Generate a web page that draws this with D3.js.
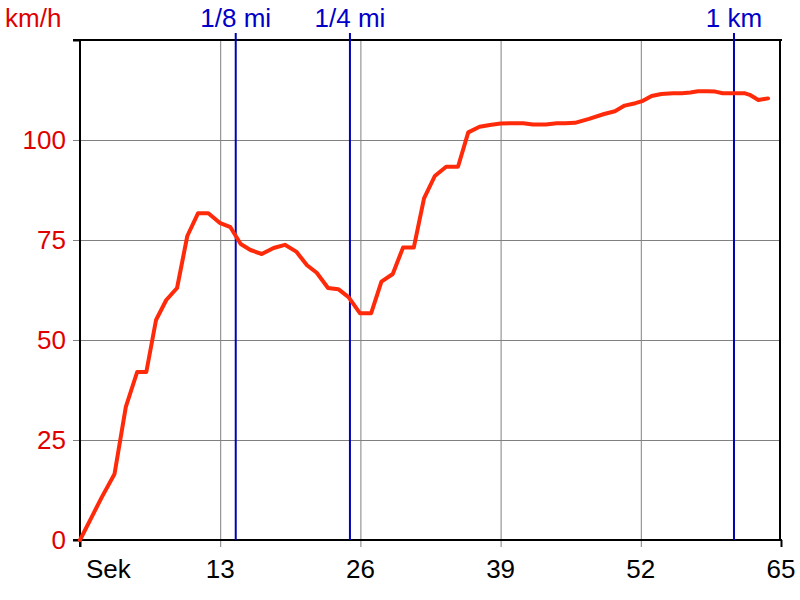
<!DOCTYPE html>
<html><head><meta charset="utf-8">
<script src="https://cdn.jsdelivr.net/npm/d3@7"></script>
<style>html,body{margin:0;padding:0;background:#fff;}svg{display:block;}</style>
</head><body>
<svg id="c" width="800" height="600"></svg>
<script>
// Data
const timeSec = [0,1,2,3.2,4.25,5.3,6.15,7.05,8.0,9.0,9.95,10.95,11.9,12.95,13.95,14.9,15.8,16.85,17.95,19.0,20.05,21.05,21.95,23.0,23.95,24.9,25.95,27.0,27.95,29.0,29.95,30.95,31.9,32.9,33.95,35.05,36.0,37.05,38.0,39.0,40.1,41.1,42.0,43.2,44.2,45.0,45.9,47.2,48.6,49.6,50.5,51.5,52.2,53.0,53.9,55.0,55.8,56.6,57.3,58.2,58.9,59.6,60.6,61.6,62.1,62.9,63.8];
const speedKmh = [0,5.3,10.6,16.5,33.3,42,42,55,60,63,76,81.7,81.7,79.3,78.2,74,72.5,71.5,73,73.8,72.1,68.7,66.8,63,62.7,60.7,56.7,56.7,64.6,66.5,73.1,73.1,85.4,91,93.3,93.3,101.9,103.3,103.75,104.1,104.2,104.2,103.9,103.9,104.2,104.2,104.3,105.3,106.5,107.2,108.6,109.2,109.8,111,111.5,111.7,111.7,111.9,112.2,112.2,112.1,111.7,111.7,111.7,111.3,110,110.4];
const xTicks = [0,13,26,39,52,65];
const xTickLabels = ["Sek","13","26","39","52","65"];
const yTicks = [0,25,50,75,100];
const markerTimes = [14.44,25.03,60.64];
const markerLabels = ["1/8 mi","1/4 mi","1 km"];
const yUnit = "km/h";

const svg = d3.select("#c");
const L=80, R=781, T=40, B=540;
const x = d3.scaleLinear().domain([0,65]).range([L,R]);
const y = d3.scaleLinear().domain([0,125]).range([B,T]);
const FONT = "'Liberation Sans', Arial, sans-serif";

// vertical grid + bottom ticks
const gx = svg.append("g").attr("transform",`translate(0,${B})`)
  .call(d3.axisBottom(x).tickValues(xTicks).tickSize(7).tickFormat(""));
gx.select(".domain").remove();
gx.selectAll(".tick line").attr("stroke", d => (d===0||d===65) ? "#000" : "#808080")
  .attr("stroke-width", d => (d===0||d===65) ? 2 : 1)
  .attr("y1", d => (d===0||d===65) ? 0 : -(B-T));

// horizontal grid + left ticks
const gy = svg.append("g").attr("transform",`translate(${L},0)`)
  .call(d3.axisLeft(y).tickValues([0,25,50,75,100,125]).tickSize(7).tickFormat(""));
gy.select(".domain").remove();
gy.selectAll(".tick line").attr("stroke", d => (d===0||d===125) ? "#000" : "#808080")
  .attr("stroke-width", d => (d===0||d===125) ? 2 : 1)
  .attr("x2", d => (d===0||d===125) ? -7 : (R-L-1))
  .attr("x1", d => (d===0||d===125) ? 0 : -7);

// frame
const frame = svg.append("g").attr("stroke","#000").attr("stroke-width",2);
frame.append("line").attr("x1",x(0)-7).attr("x2",x(65)+1).attr("y1",y(125)).attr("y2",y(125));
frame.append("line").attr("x1",x(0)-7).attr("x2",x(65)+1).attr("y1",y(0)).attr("y2",y(0));
frame.append("line").attr("x1",x(0)).attr("x2",x(0)).attr("y1",y(125)).attr("y2",y(0)+7);
frame.append("line").attr("x1",x(65)-1).attr("x2",x(65)-1).attr("y1",y(125)).attr("y2",y(0));

// markers
const mk = svg.append("g");
mk.selectAll("line").data(markerTimes).join("line")
  .attr("x1",d=>x(d)).attr("x2",d=>x(d)).attr("y1",T-7).attr("y2",B)
  .attr("stroke","#0000b4").attr("stroke-width",2);
mk.selectAll("text").data(markerTimes).join("text")
  .attr("x",d=>x(d)).attr("y",27).attr("text-anchor","middle")
  .attr("font-family",FONT).attr("font-size",26).attr("fill","#0000c8")
  .text((d,i)=>markerLabels[i]);

// line
const pts = timeSec.map((t,i)=>[t,speedKmh[i]]);
svg.append("path").datum(pts)
  .attr("d", d3.line().x(d=>x(d[0])).y(d=>y(d[1])))
  .attr("fill","none").attr("stroke","#ff2a0a").attr("stroke-width",4)
  .attr("stroke-linejoin","round").attr("stroke-linecap","round");

// y labels
svg.append("g").selectAll("text").data(yTicks).join("text")
  .attr("x",66).attr("y",d=>y(d)+9).attr("text-anchor","end")
  .attr("font-family",FONT).attr("font-size",26).attr("fill","#e00000")
  .text(d=>d);
svg.append("text").attr("x",5).attr("y",27).attr("font-family",FONT)
  .attr("font-size",26).attr("fill","#e00000").text(yUnit);

// x labels
svg.append("g").selectAll("text").data(xTicks).join("text")
  .attr("x",(d,i)=> i===0 ? x(d)+6 : x(d))
  .attr("y",578).attr("text-anchor",(d,i)=> i===0 ? "start" : "middle")
  .attr("font-family",FONT).attr("font-size",26).attr("fill","#000")
  .text((d,i)=>xTickLabels[i]);
</script>
</body></html>
